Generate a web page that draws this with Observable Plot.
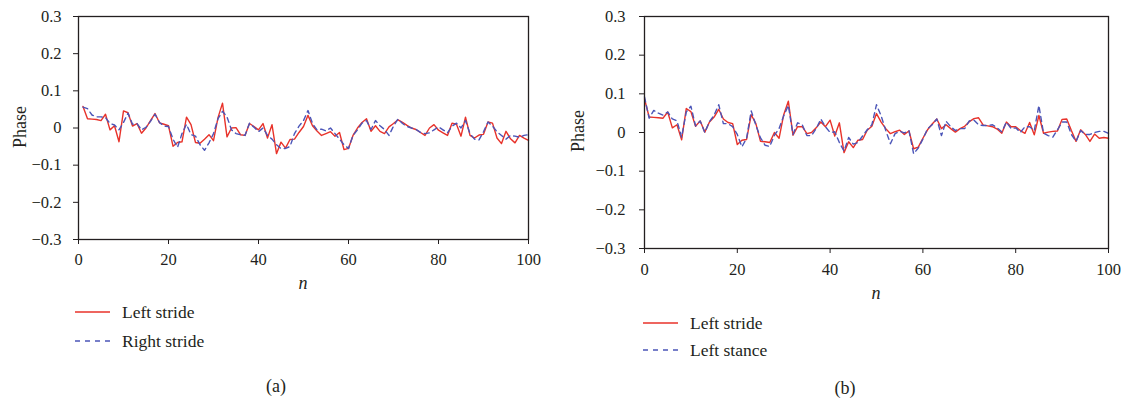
<!DOCTYPE html>
<html>
<head>
<meta charset="utf-8">
<script src="https://cdn.jsdelivr.net/npm/d3@7"></script>
<script src="https://cdn.jsdelivr.net/npm/@observablehq/plot@0.6"></script>
<style>
  body { margin: 0; background: #fff; }
  #wrap { position: relative; width: 1125px; height: 400px; font-family: "Liberation Serif", "DejaVu Serif", serif; color: #231f20; }
  .abs { position: absolute; white-space: nowrap; }
  .lbl { font-size: 18px; line-height: 1; }
  .leg { font-size: 17.5px; display: flex; align-items: center; }
  .leg svg { margin-right: 11px; }
</style>
</head>
<body>
<div id="wrap"></div>
<script>
// ---------- Data ----------
const nA = d3.range(1, 101);   // panel (a) sample index
const nB = d3.range(0, 101);   // panel (b) sample index

const leftStrideA = [
  0.058, 0.025, 0.024, 0.023, 0.020, 0.037, -0.005, 0.006, -0.037, 0.046,
  0.041, 0.005, 0.012, -0.014, 0.000, 0.020, 0.039, 0.014, 0.010, 0.006,
  -0.049, -0.039, -0.037, 0.029, 0.009, -0.039, -0.041, -0.030, -0.018, -0.034,
  0.028, 0.067, -0.024, 0.000, 0.001, -0.018, -0.020, 0.012, 0.004, -0.005,
  0.012, -0.027, 0.009, -0.069, -0.038, -0.054, -0.031, -0.030, -0.012, 0.004,
  0.034, 0.006, -0.008, -0.020, -0.015, -0.010, -0.022, -0.012, -0.058, -0.055,
  -0.020, 0.000, 0.015, 0.025, -0.009, 0.006, -0.009, -0.015, 0.003, 0.012,
  0.022, 0.015, 0.007, 0.000, -0.004, -0.012, -0.020, 0.000, 0.009, -0.006,
  -0.013, -0.020, 0.013, 0.010, -0.022, 0.029, -0.020, -0.027, -0.019, -0.017,
  0.016, 0.013, -0.027, -0.042, -0.009, -0.029, -0.040, -0.020, -0.027, -0.033
];
const rightStrideA = [
  0.056, 0.052, 0.035, 0.030, 0.030, 0.028, 0.012, 0.008, -0.005, 0.015,
  0.040, 0.010, 0.012, -0.005, 0.002, 0.018, 0.037, 0.015, 0.005, 0.004,
  -0.030, -0.052, -0.015, 0.010, -0.018, -0.022, -0.045, -0.060, -0.040, -0.015,
  0.025, 0.045, 0.030, -0.005, -0.015, -0.018, -0.020, 0.013, 0.002, -0.010,
  0.000, -0.020, -0.030, -0.045, -0.055, -0.055, -0.050, -0.015, 0.005, 0.020,
  0.047, 0.012, -0.005, -0.003, -0.008, 0.000, -0.015, -0.030, -0.045, -0.055,
  -0.020, -0.005, 0.013, 0.020, -0.004, 0.020, 0.006, -0.004, -0.020, 0.005,
  0.024, 0.012, 0.004, 0.000, -0.004, -0.012, -0.015, -0.013, -0.005, 0.003,
  -0.005, -0.013, 0.005, 0.013, 0.000, 0.020, -0.015, -0.030, -0.032, -0.010,
  0.016, 0.005, -0.010, -0.020, -0.030, -0.020, -0.022, -0.025, -0.020, -0.018
];
const leftStrideB = [
  0.087, 0.040, 0.039, 0.038, 0.037, 0.053, 0.012, 0.020, -0.019, 0.062,
  0.054, 0.016, 0.030, 0.001, 0.027, 0.040, 0.060, 0.035, 0.026, 0.023,
  -0.031, -0.020, -0.018, 0.046, 0.023, -0.023, -0.024, -0.026, 0.000, -0.015,
  0.046, 0.081, -0.007, 0.015, 0.015, -0.003, 0.000, 0.012, 0.027, 0.015,
  0.032, -0.009, 0.025, -0.052, -0.024, -0.039, -0.020, -0.018, 0.006, 0.016,
  0.049, 0.027, 0.010, -0.003, 0.002, 0.006, -0.005, 0.004, -0.042, -0.038,
  -0.015, 0.007, 0.022, 0.035, 0.010, 0.020, 0.010, 0.001, 0.010, 0.016,
  0.028, 0.036, 0.038, 0.019, 0.017, 0.015, 0.009, -0.002, 0.027, 0.015,
  0.015, 0.005, -0.002, 0.026, -0.006, 0.044, -0.002, 0.001, 0.003, 0.004,
  0.034, 0.035, 0.005, -0.023, 0.007, -0.005, -0.023, -0.004, -0.015, -0.013,
  -0.015
];
const leftStanceB = [
  0.092, 0.037, 0.057, 0.050, 0.045, 0.053, 0.035, 0.030, -0.012, 0.053,
  0.068, 0.017, 0.030, 0.000, 0.028, 0.045, 0.072, 0.023, 0.023, 0.015,
  -0.005, -0.037, -0.015, 0.056, 0.019, -0.014, -0.033, -0.036, -0.007, 0.010,
  0.043, 0.070, -0.005, 0.025, 0.020, -0.008, -0.008, 0.010, 0.035, 0.015,
  0.000, 0.002, -0.026, -0.048, -0.013, -0.030, -0.026, -0.009, 0.007, 0.020,
  0.072, 0.043, 0.005, -0.029, -0.003, 0.003, -0.001, 0.005, -0.055, -0.040,
  -0.017, 0.010, 0.020, 0.035, -0.008, 0.029, 0.015, 0.005, 0.010, 0.010,
  0.030, 0.032, 0.020, 0.018, 0.018, 0.020, 0.012, 0.002, 0.027, 0.010,
  0.012, 0.000, 0.015, 0.015, 0.005, 0.070, -0.002, -0.008, -0.012, 0.007,
  0.027, 0.027, -0.005, -0.023, 0.005, -0.005, -0.005, 0.000, 0.003, 0.003,
  -0.002
];

const xTicks = [0, 20, 40, 60, 80, 100];
const yTicks = [-0.3, -0.2, -0.1, 0, 0.1, 0.2, 0.3];
const legendA = ["Left stride", "Right stride"];
const legendB = ["Left stride", "Left stance"];

// ---------- Styles ----------
const INK = "#231f20";
const RED = "#e8322a";
const BLUE = "#4b55b8";
const FONT = "'Liberation Serif', 'DejaVu Serif', serif";
const fmtY = d => Math.abs(d) < 1e-9 ? "0" : d3.format(".1f")(d);

function panel(opts) {
  return Plot.plot({
    width: opts.width,
    height: 300,
    marginLeft: opts.ml,
    marginRight: opts.mr,
    marginTop: 16,
    marginBottom: opts.mb,
    x: {domain: [0, 100]},
    y: {domain: [-0.3, 0.3]},
    style: {fontFamily: FONT, fontSize: "16.5px", color: INK, background: "transparent", overflow: "visible"},
    marks: [
      Plot.axisX({ticks: xTicks, tickSize: 5, tickPadding: opts.xpad, label: null, stroke: INK, fill: INK, fontSize: 16.5, fontFamily: FONT}),
      Plot.axisY({ticks: yTicks, tickFormat: fmtY, tickSize: 5, tickPadding: opts.ypad, label: null, stroke: INK, fill: INK, fontSize: 16.5, fontFamily: FONT}),
      Plot.lineY(opts.red, {x: opts.n, stroke: RED, strokeWidth: 1.4}),
      Plot.lineY(opts.blue, {x: opts.n, stroke: BLUE, strokeWidth: 1.4, strokeDasharray: "5,4"}),
      Plot.frame({stroke: INK, strokeWidth: 1.3})
    ]
  });
}

const wrap = document.getElementById("wrap");

const pa = panel({width: 560, ml: 78, mr: 32, mb: 61, xpad: 9, ypad: 12, n: nA, red: leftStrideA, blue: rightStrideA});
pa.style.position = "absolute"; pa.style.left = "0px"; pa.style.top = "0px";
wrap.appendChild(pa);

const pb = panel({width: 565, ml: 84, mr: 17, mb: 52, xpad: 10, ypad: 14, n: nB, red: leftStrideB, blue: leftStanceB});
pb.style.position = "absolute"; pb.style.left = "560px"; pb.style.top = "0px";
wrap.appendChild(pb);

function addText(txt, x, y, cls, extra) {
  const s = document.createElement("div");
  s.className = "abs " + cls;
  s.textContent = txt;
  s.style.left = x + "px";
  s.style.top = y + "px";
  s.style.transform = "translate(-50%,-50%)" + (extra || "");
  wrap.appendChild(s);
  return s;
}

// axis titles
addText("Phase", 20, 127, "lbl", " rotate(-90deg)");
addText("Phase", 578, 131, "lbl", " rotate(-90deg)");
addText("n", 303, 283, "lbl").style.fontStyle = "italic";
addText("n", 876, 293, "lbl").style.fontStyle = "italic";
// captions
addText("(a)", 276, 386, "lbl");
addText("(b)", 845, 388, "lbl");

function legendRow(label, x, y, color, dashed) {
  const row = document.createElement("div");
  row.className = "abs leg";
  row.style.left = x + "px";
  row.style.top = (y - 11) + "px";
  row.style.height = "22px";
  const ns = "http://www.w3.org/2000/svg";
  const svg = document.createElementNS(ns, "svg");
  svg.setAttribute("width", 36); svg.setAttribute("height", 4);
  const ln = document.createElementNS(ns, "line");
  ln.setAttribute("x1", 0); ln.setAttribute("x2", 35);
  ln.setAttribute("y1", 2); ln.setAttribute("y2", 2);
  ln.setAttribute("stroke", color); ln.setAttribute("stroke-width", 1.3);
  if (dashed) ln.setAttribute("stroke-dasharray", "5,5");
  svg.appendChild(ln);
  row.appendChild(svg);
  const t = document.createElement("span");
  t.textContent = label;
  row.appendChild(t);
  wrap.appendChild(row);
}
legendRow(legendA[0], 75, 312, RED, false);
legendRow(legendA[1], 75, 341, BLUE, true);
legendRow(legendB[0], 643, 323, RED, false);
legendRow(legendB[1], 643, 350, BLUE, true);
</script>
</body>
</html>
